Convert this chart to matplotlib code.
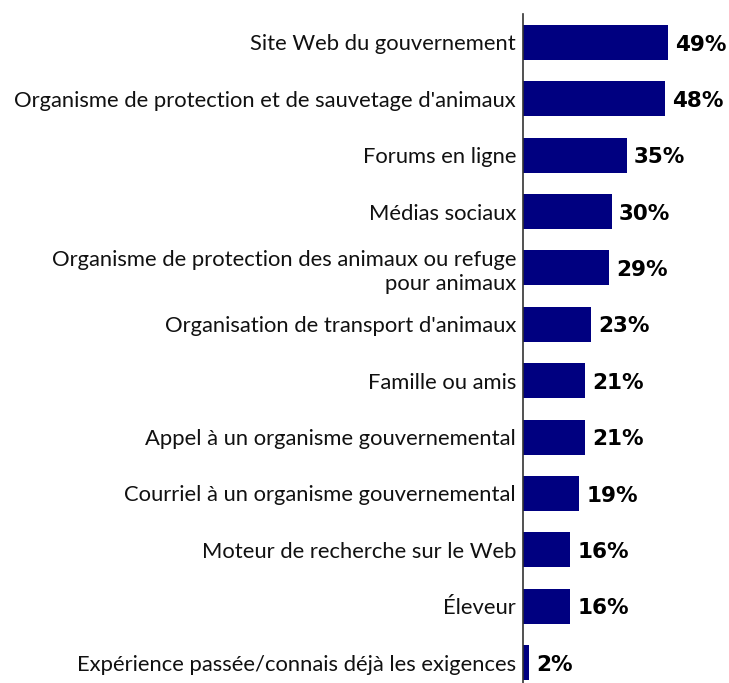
import matplotlib
matplotlib.use("Agg")
import matplotlib.pyplot as plt

categories = [
    "Site Web du gouvernement",
    "Organisme de protection et de sauvetage d'animaux",
    "Forums en ligne",
    "Médias sociaux",
    "Organisme de protection des animaux ou refuge\npour animaux",
    "Organisation de transport d'animaux",
    "Famille ou amis",
    "Appel à un organisme gouvernemental",
    "Courriel à un organisme gouvernemental",
    "Moteur de recherche sur le Web",
    "Éleveur",
    "Expérience passée/connais déjà les exigences",
]
values = [49, 48, 35, 30, 29, 23, 21, 21, 19, 16, 16, 2]
value_labels = ["49%", "48%", "35%", "30%", "29%", "23%", "21%", "21%", "19%", "16%", "16%", "2%"]

W, H = 729, 683
fig = plt.figure(figsize=(W / 100, H / 100), dpi=100)
x0 = 523 / W
x1 = (523 + 2.96 * 55) / W
ax = fig.add_axes([x0, 0, x1 - x0, 1 - 14 / H])

pos = list(range(len(categories)))
ax.barh(pos, values, height=0.62, color="#000080")
ax.set_xlim(0, 55)
ax.set_ylim(11.363, -0.505)

for p, v, lab in zip(pos, values, value_labels):
    ax.annotate(lab, (v, p), xytext=(5, -1.5), textcoords="offset points",
                ha="left", va="center", fontsize=15.5, fontweight="bold",
                family="DejaVu Sans", color="#000000")

ax.set_yticks(pos)
ax.set_yticklabels(categories, fontsize=15.8, family="Lato", color="#111111",
                   ha="right", linespacing=1.25)
ax.tick_params(axis="y", length=0, pad=5)
ax.set_xticks([])
for s in ["top", "right", "bottom"]:
    ax.spines[s].set_visible(False)
ax.spines["left"].set_color("#333333")
ax.spines["left"].set_linewidth(1.2)

fig.savefig("out.png", dpi=100)
